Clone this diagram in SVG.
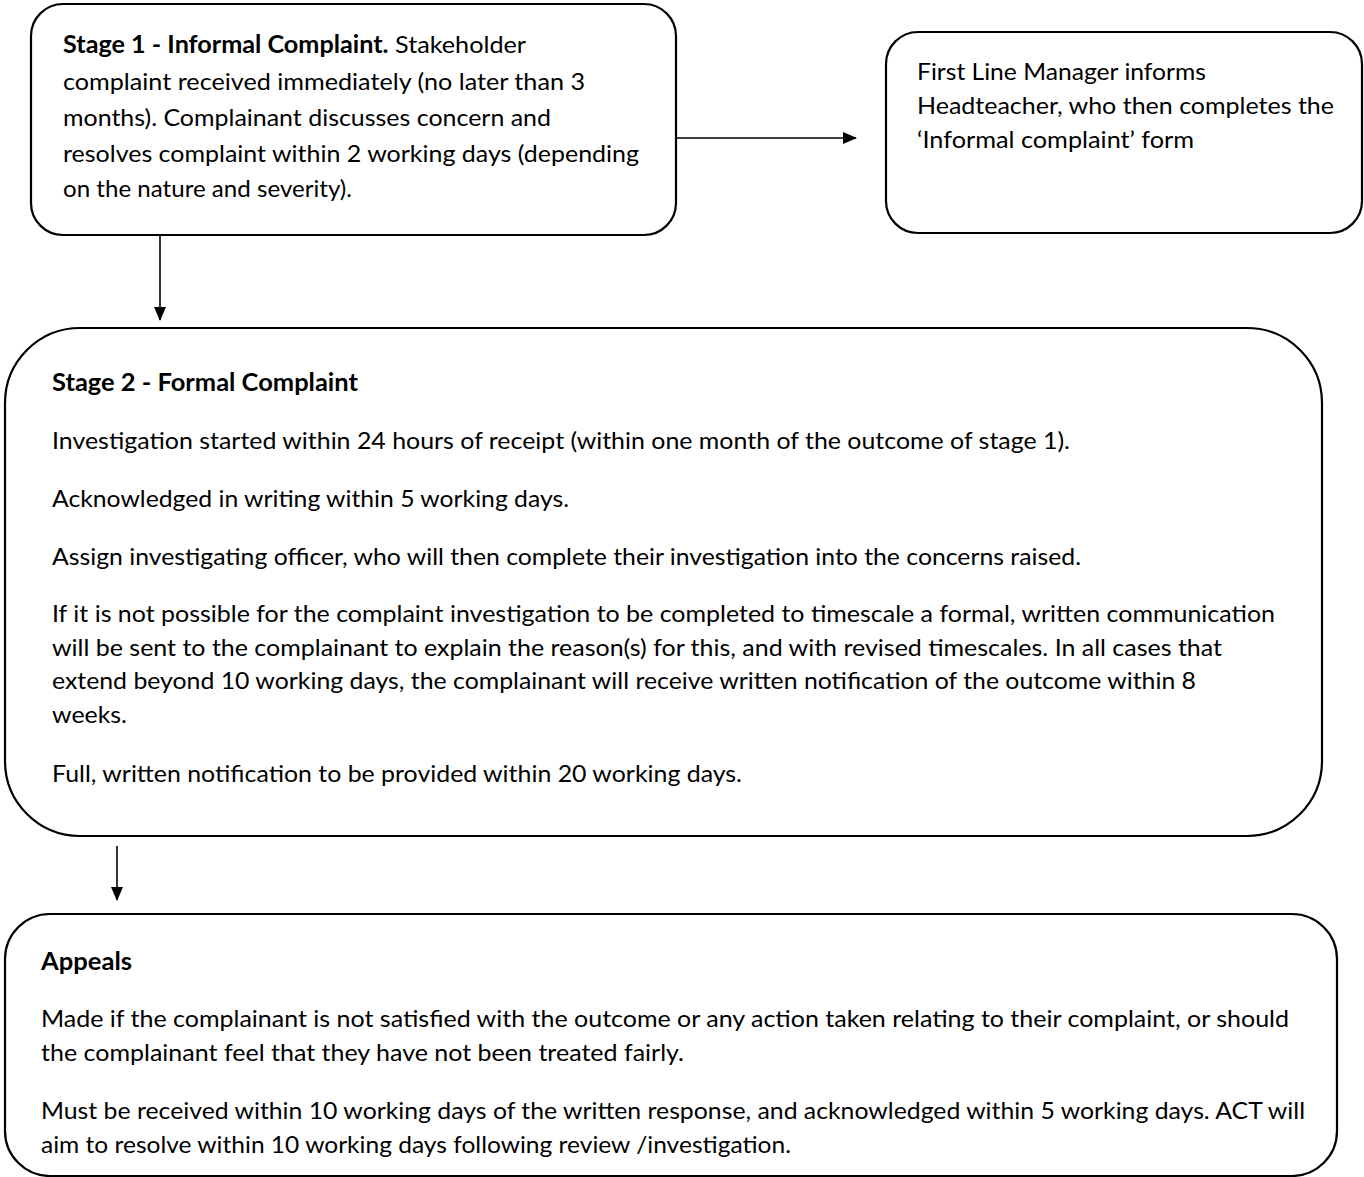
<svg xmlns="http://www.w3.org/2000/svg" width="1364" height="1177" viewBox="0 0 1364 1177">
<style>
.box{fill:#fff;stroke:#000;stroke-width:2.2}
.t{font-family:Lato,"Open Sans","Liberation Sans",Arial,sans-serif;font-size:24px;fill:#000}
.b{font-weight:bold}
.conn{stroke:#000;stroke-width:1.6;fill:none}
</style>
<defs>
<marker id="ah" viewBox="0 0 14 12" refX="13" refY="6" markerWidth="14" markerHeight="12" markerUnits="userSpaceOnUse" orient="auto">
<path d="M0,0 L14,6 L0,12 Z" fill="#000"/>
</marker>
</defs>
<rect width="1364" height="1177" fill="#fff"/>
<g id="connectors">
<line class="conn" x1="676" y1="138" x2="856" y2="138" marker-end="url(#ah)"/>
<line class="conn" x1="160" y1="236" x2="160" y2="320" marker-end="url(#ah)"/>
<line class="conn" x1="117" y1="846" x2="117" y2="900" marker-end="url(#ah)"/>
</g>
<g id="stage1">
<rect class="box" x="31" y="4" width="645" height="231" rx="32" ry="32"/>
<text class="t" x="63" y="53" textLength="463" lengthAdjust="spacingAndGlyphs"><tspan class="b">Stage 1 - Informal Complaint.</tspan> Stakeholder</text>
<text class="t" x="63" y="90" textLength="522" lengthAdjust="spacingAndGlyphs">complaint received immediately (no later than 3</text>
<text class="t" x="63" y="126" textLength="488" lengthAdjust="spacingAndGlyphs">months). Complainant discusses concern and</text>
<text class="t" x="63" y="162" textLength="576" lengthAdjust="spacingAndGlyphs">resolves complaint within 2 working days (depending</text>
<text class="t" x="63" y="197" textLength="289" lengthAdjust="spacingAndGlyphs">on the nature and severity).</text>
</g>
<g id="manager">
<rect class="box" x="886" y="32" width="476" height="201" rx="32" ry="32"/>
<text class="t" x="917" y="80" textLength="289" lengthAdjust="spacingAndGlyphs">First Line Manager informs</text>
<text class="t" x="917" y="114" textLength="417" lengthAdjust="spacingAndGlyphs">Headteacher, who then completes the</text>
<text class="t" x="917" y="148" textLength="277" lengthAdjust="spacingAndGlyphs">‘Informal complaint’ form</text>
</g>
<g id="stage2">
<rect class="box" x="5" y="328" width="1317" height="508" rx="75" ry="75"/>
<text class="t b" x="52" y="391" textLength="306" lengthAdjust="spacingAndGlyphs">Stage 2 - Formal Complaint</text>
<text class="t" x="52" y="449" textLength="1018" lengthAdjust="spacingAndGlyphs">Investigation started within 24 hours of receipt (within one month of the outcome of stage 1).</text>
<text class="t" x="52" y="507" textLength="517" lengthAdjust="spacingAndGlyphs">Acknowledged in writing within 5 working days.</text>
<text class="t" x="52" y="565" textLength="1029" lengthAdjust="spacingAndGlyphs">Assign investigating officer, who will then complete their investigation into the concerns raised.</text>
<text class="t" x="52" y="622" textLength="1223" lengthAdjust="spacingAndGlyphs">If it is not possible for the complaint investigation to be completed to timescale a formal, written communication</text>
<text class="t" x="52" y="656" textLength="1170" lengthAdjust="spacingAndGlyphs">will be sent to the complainant to explain the reason(s) for this, and with revised timescales. In all cases that</text>
<text class="t" x="52" y="689" textLength="1144" lengthAdjust="spacingAndGlyphs">extend beyond 10 working days, the complainant will receive written notification of the outcome within 8</text>
<text class="t" x="52" y="723" textLength="75" lengthAdjust="spacingAndGlyphs">weeks.</text>
<text class="t" x="52" y="782" textLength="690" lengthAdjust="spacingAndGlyphs">Full, written notification to be provided within 20 working days.</text>
</g>
<g id="appeals">
<rect class="box" x="5" y="914" width="1332" height="262" rx="45" ry="45"/>
<text class="t b" x="41" y="970" textLength="91" lengthAdjust="spacingAndGlyphs">Appeals</text>
<text class="t" x="41" y="1027" textLength="1248" lengthAdjust="spacingAndGlyphs">Made if the complainant is not satisfied with the outcome or any action taken relating to their complaint, or should</text>
<text class="t" x="41" y="1061" textLength="643" lengthAdjust="spacingAndGlyphs">the complainant feel that they have not been treated fairly.</text>
<text class="t" x="41" y="1119" textLength="1264" lengthAdjust="spacingAndGlyphs">Must be received within 10 working days of the written response, and acknowledged within 5 working days. ACT will</text>
<text class="t" x="41" y="1153" textLength="750" lengthAdjust="spacingAndGlyphs">aim to resolve within 10 working days following review /investigation.</text>
</g>
</svg>
